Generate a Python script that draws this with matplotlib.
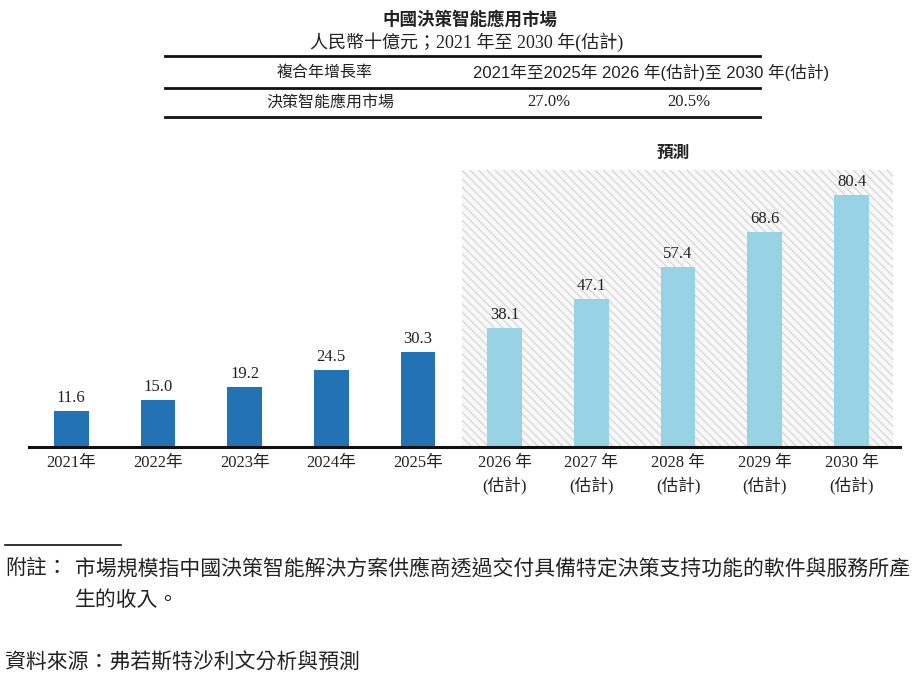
import matplotlib
matplotlib.use("Agg")
import matplotlib.pyplot as plt
from matplotlib.patches import Rectangle
from matplotlib.lines import Line2D

# ---- data ----
years = ["2021年", "2022年", "2023年", "2024年", "2025年",
         "2026 年\n(估計)", "2027 年\n(估計)", "2028 年\n(估計)", "2029 年\n(估計)", "2030 年\n(估計)"]
values = [11.6, 15.0, 19.2, 24.5, 30.3, 38.1, 47.1, 57.4, 68.6, 80.4]
forecast = [False] * 5 + [True] * 5

title = "中國決策智能應用市場"
subtitle = "人民幣十億元；2021 年至 2030 年(估計)"
table_header = ["複合年增長率", "2021年至2025年", "2026 年(估計)至 2030 年(估計)"]
table_row = ["決策智能應用市場", "27.0%", "20.5%"]
forecast_label = "預測"
note_lines = ["附註：", "市場規模指中國決策智能解決方案供應商透過交付具備特定決策支持功能的軟件與服務所產", "生的收入。"]
source = "資料來源：弗若斯特沙利文分析與預測"

W, H = 922, 687
SERIF = ["Liberation Serif", "Noto Sans CJK TC", "DejaVu Sans"]
SANS = ["Liberation Sans", "Noto Sans CJK TC", "DejaVu Sans"]
plt.rcParams["font.family"] = SERIF
plt.rcParams["hatch.linewidth"] = 0.9

def fx(px):
    return px / W

def fy(py):
    return 1 - py / H

fig = plt.figure(figsize=(W / 100, H / 100), dpi=100)

# axes geometry in pixels
ax_left, ax_right, ax_top, ax_bottom = 29, 900, 170, 447
ax = fig.add_axes([fx(ax_left), fy(ax_bottom), (ax_right - ax_left) / W, (ax_bottom - ax_top) / H])

x0_px, step_px = 71.2, 86.7
ax.set_xlim((ax_left - x0_px) / step_px, (ax_right - x0_px) / step_px)
ymax = (ax_bottom - ax_top) / 3.134
ax.set_ylim(0, ymax)

# hatched forecast region
hx0 = (462 - x0_px) / step_px
hx1 = (893 - x0_px) / step_px
ax.add_patch(Rectangle((hx0, 0), hx1 - hx0, ymax, facecolor="#f8f8f8",
                       edgecolor="#d6d6d6", hatch="\\\\\\\\", linewidth=0, zorder=0))

xs = list(range(len(values)))
colors = ["#97d3e5" if f else "#2372b3" for f in forecast]
ax.bar(xs, values, width=0.40, color=colors, zorder=2)
for x, v in zip(xs, values):
    ax.text(x, v + 1.6, f"{v:.1f}", ha="center", va="bottom", fontsize=12,
            family=SERIF, color="#222222")

ax.set_xticks(xs)
ax.set_xticklabels(years, fontsize=12, family=SERIF, linespacing=1.35, color="#222222")
ax.tick_params(axis="x", length=0, pad=6)
ax.set_yticks([])
for s in ["top", "right", "left"]:
    ax.spines[s].set_visible(False)
ax.spines["bottom"].set_linewidth(2.2)
ax.spines["bottom"].set_color("#111111")

# forecast label
fig.text(fx(673), fy(153), forecast_label, ha="center", va="center", fontsize=12,
         fontweight="bold", fontstyle="italic", family=SANS, color="#222222")

# title / subtitle
fig.text(fx(470), fy(19), title, ha="center", va="center", fontsize=12.6,
         fontweight="bold", family=SANS, color="#222222")
fig.text(fx(467), fy(42), subtitle, ha="center", va="center", fontsize=13,
         family=SERIF, color="#222222")

# table lines
for ly in [56, 88, 117]:
    fig.add_artist(Line2D([fx(165), fx(760)], [fy(ly), fy(ly)], color="#111111",
                          linewidth=2.0, transform=fig.transFigure))
fig.text(fx(325), fy(72), table_header[0], ha="center", va="center", fontsize=11.5,
         family=SANS, color="#222222")
fig.text(fx(651), fy(72), table_header[1] + " " + table_header[2], ha="center",
         va="center", fontsize=12, family=SANS, color="#222222")
fig.text(fx(330), fy(102), table_row[0], ha="center", va="center", fontsize=11.5,
         family=SANS, color="#222222")
fig.text(fx(549), fy(102), table_row[1], ha="center", va="center", fontsize=12,
         family=SERIF, color="#222222")
fig.text(fx(689), fy(102), table_row[2], ha="center", va="center", fontsize=12,
         family=SERIF, color="#222222")

# footnotes
fs = 15
fig.add_artist(Line2D([fx(5), fx(121)], [fy(545), fy(545)], color="#111111",
                      linewidth=1.2, transform=fig.transFigure))
fig.text(fx(5), fy(569), note_lines[0], ha="left", va="center", fontsize=fs,
         family=SERIF, color="#222222")
fig.text(fx(75), fy(569), note_lines[1], ha="left", va="center", fontsize=fs,
         family=SERIF, color="#222222")
fig.text(fx(75), fy(601), note_lines[2], ha="left", va="center", fontsize=fs,
         family=SERIF, color="#222222")
fig.text(fx(5), fy(664), source, ha="left", va="center", fontsize=fs,
         family=SERIF, color="#222222")

fig.savefig("out.png", dpi=100)
